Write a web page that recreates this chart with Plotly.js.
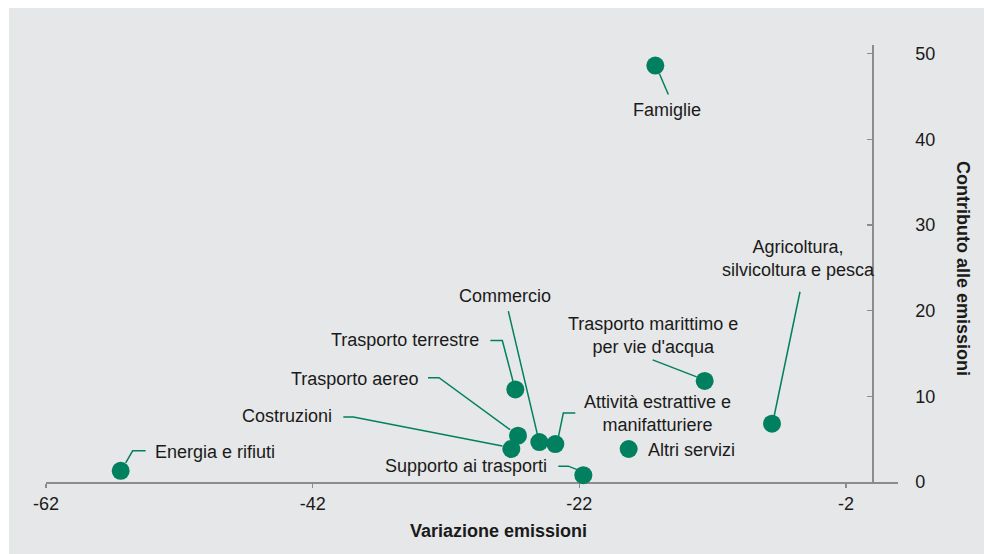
<!DOCTYPE html>
<html>
<head>
<meta charset="utf-8">
<script src="https://cdn.plot.ly/plotly-3.0.1.min.js"></script>
<style>
  html, body { margin: 0; padding: 0; background: #ffffff; width: 984px; height: 554px; overflow: hidden; }
  #chart { position: absolute; left: 9px; top: 8px; width: 975px; height: 546px; }
</style>
</head>
<body>
<div id="chart"></div>
<script>
// ---- Data ----
const sectors = [
  "Energia e rifiuti",
  "Famiglie",
  "Agricoltura,<br>silvicoltura e pesca",
  "Trasporto marittimo e<br>per vie d'acqua",
  "Trasporto terrestre",
  "Trasporto aereo",
  "Costruzioni",
  "Commercio",
  "Attività estrattive e<br>manifatturiere",
  "Altri servizi",
  "Supporto ai trasporti"
];
const variazioneEmissioni = [-56.4, -16.3, -7.55, -12.6, -26.8, -26.6, -27.1, -25.0, -23.8, -18.3, -21.7];
const contributoEmissioni = [1.3, 48.6, 6.8, 11.8, 10.8, 5.4, 3.85, 4.66, 4.43, 3.85, 0.8];
const xTickVals = [-62, -42, -22, -2];
const yTickVals = [0, 10, 20, 30, 40, 50];
const xTitle = "Variazione emissioni";
const yTitle = "Contributo alle emissioni";

// ---- Label placement (pixel offsets from each point; screen coords, y down) ----
const labelPlacement = [
  { leader: [[5,-8],[12,-20],[25,-20]], dx: 32, dy: -19, anchor: "left" },
  { leader: [[4,8],[13,29]], dx: 12, dy: 44, anchor: "center" },
  { leader: [[2,-7],[28,-132]], dx: 26, dy: -165, anchor: "center" },
  { leader: [[-8,-4],[-52,-21]], dx: -52, dy: -45, anchor: "center" },
  { leader: [[-2,-7],[-13,-49],[-25,-49]], dx: -34, dy: -49, anchor: "right" },
  { leader: [[-8,-6],[-79,-58],[-90,-58]], dx: -98, dy: -57, anchor: "right" },
  { leader: [[-9,-3],[-158,-32],[-168,-32]], dx: -177, dy: -33, anchor: "right" },
  { leader: [[-2,-8],[-31,-131]], dx: -34, dy: -146, anchor: "center" },
  { leader: [[3,-7],[8,-31],[20,-31]], dx: 102, dy: -31, anchor: "center" },
  { leader: [], dx: 17, dy: 1, anchor: "left" },
  { leader: [[-5,-5],[-15,-9],[-25,-9]], dx: -34, dy: -9, anchor: "right" }
];

const GREEN = "#00805e";
const AXIS = "#8c8c8c";
const TEXT = "#1a1a1a";
const FONT = "Liberation Sans, Arial, Helvetica, sans-serif";
const BG = "#e6e7e8";
const FS = 18;

const xRange = [-62, 1.9];
const yRange = [0, 51];

const trace = {
  type: "scatter",
  mode: "markers",
  x: variazioneEmissioni,
  y: contributoEmissioni,
  text: sectors,
  hoverinfo: "text+x+y",
  cliponaxis: false,
  marker: { color: GREEN, size: 18, line: { width: 0 } }
};

const shapes = [];
const annotations = [];
sectors.forEach((s, i) => {
  const p = labelPlacement[i];
  if (p.leader.length > 1) {
    const path = p.leader.map((pt, k) => (k === 0 ? "M" : "L") + pt[0] + "," + (-pt[1])).join(" ");
    shapes.push({
      type: "path", xref: "x", yref: "y",
      xsizemode: "pixel", ysizemode: "pixel",
      xanchor: variazioneEmissioni[i], yanchor: contributoEmissioni[i],
      path: path, layer: "below",
      line: { color: GREEN, width: 1.5 }
    });
  }
  annotations.push({
    x: variazioneEmissioni[i], y: contributoEmissioni[i], xref: "x", yref: "y",
    text: s, showarrow: false,
    xanchor: p.anchor, yanchor: "middle", align: "center",
    xshift: p.dx, yshift: -p.dy,
    font: { family: FONT, size: FS, color: TEXT }
  });
});

annotations.push({
  text: "<b>" + xTitle + "</b>", xref: "paper", yref: "paper",
  x: (498 - 46) / 852, y: 0, yshift: -49, showarrow: false,
  xanchor: "center", yanchor: "middle",
  font: { family: FONT, size: FS, color: TEXT }
});
annotations.push({
  text: "<b>" + yTitle + "</b>", xref: "paper", yref: "paper",
  x: (963 - 46) / 852, y: (482 - 268) / 437, showarrow: false,
  textangle: 90, xanchor: "center", yanchor: "middle",
  font: { family: FONT, size: FS, color: TEXT }
});

const layout = {
  width: 975, height: 546,
  margin: { l: 37, r: 86, t: 37, b: 72 },
  paper_bgcolor: BG, plot_bgcolor: BG,
  showlegend: false,
  font: { family: FONT, size: FS, color: TEXT },
  xaxis: {
    range: xRange, tickvals: xTickVals, ticktext: xTickVals.map(String),
    showgrid: false, zeroline: false,
    showline: true, linecolor: AXIS, linewidth: 2,
    ticks: "outside", ticklen: 4, tickcolor: AXIS, tickwidth: 1.5,
    tickfont: { family: FONT, size: FS, color: TEXT },
    layer: "below traces", fixedrange: true
  },
  yaxis: {
    range: yRange, tickvals: yTickVals, ticktext: yTickVals.map(String),
    anchor: "free", overlaying: false, side: "right",
    position: (0 - xRange[0]) / (xRange[1] - xRange[0]),
    showgrid: false, zeroline: false,
    showline: true, linecolor: AXIS, linewidth: 2,
    ticks: "inside", ticklen: 5, tickcolor: AXIS, tickwidth: 1.5,
    ticklabelstandoff: 38,
    tickfont: { family: FONT, size: FS, color: TEXT },
    layer: "below traces", fixedrange: true
  },
  shapes: shapes,
  annotations: annotations
};

Plotly.newPlot("chart", [trace], layout, { displayModeBar: false, staticPlot: true });
</script>
</body>
</html>
